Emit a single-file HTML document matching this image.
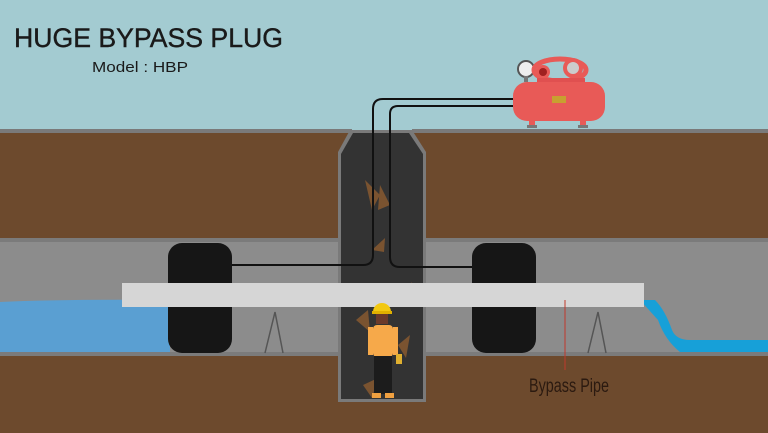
<!DOCTYPE html>
<html><head><style>body{margin:0}svg{display:block}</style></head><body>
<svg width="768" height="433" viewBox="0 0 768 433" xmlns="http://www.w3.org/2000/svg">
<rect width="768" height="433" fill="#a3cbd1"/>
<rect y="130" width="768" height="303" fill="#6d4a2d"/>
<rect y="129" width="352" height="4" fill="#7a7a7a"/>
<rect x="412" y="129" width="356" height="4" fill="#7a7a7a"/>
<rect y="238" width="768" height="118" fill="#7b7b7b"/>
<rect y="242" width="768" height="110" fill="#8c8c8c"/>
<path d="M0 302 Q60 299 170 300 L170 352 L0 352Z" fill="#5a9fd2"/>
<path d="M640 300 L655 300 Q665 310 672 330 Q676 340 690 340 L768 340 L768 352 L680 352 Q665 340 658 320 Z" fill="#17a0d8"/>
<path d="M350 130 L412 130 L426 152 L426 402 L338 402 L338 152 Z" fill="#7a7a7a"/>
<path d="M353 133 L409 133 L423 154 L423 399 L341 399 L341 154 Z" fill="#333"/>
<g fill="#7a5330">
<path d="M365 180 L380 195 L372 210Z"/><path d="M380 185 L390 205 L378 210Z"/>
<path d="M372 250 L385 238 L384 252Z"/><path d="M400 300 L412 282 L410 305Z"/>
<path d="M356 320 L368 310 L370 332Z"/><path d="M398 345 L410 335 L406 358Z"/>
<path d="M363 385 L378 378 L372 398Z"/>
</g>
<path d="M515 99 L383 99 Q373 99 373 109 L373 255 Q373 265 363 265 L230 265" fill="none" stroke="#111" stroke-width="2"/>
<path d="M515 106 L398 106 Q390 106 390 114 L390 257 Q390 267 400 267 L475 267" fill="none" stroke="#111" stroke-width="2"/>
<rect x="168" y="243" width="64" height="110" rx="14" fill="#161616"/>
<rect x="472" y="243" width="64" height="110" rx="14" fill="#161616"/>
<rect x="122" y="283" width="522" height="24" fill="#d6d6d6"/>
<path d="M265 353 L275 312 L283 353" fill="none" stroke="#555" stroke-width="1.5"/>
<path d="M588 353 L598 312 L606 353" fill="none" stroke="#555" stroke-width="1.5"/>
<line x1="565" y1="300" x2="565" y2="370" stroke="#c0392b" stroke-width="1"/>
<text x="529" y="392" font-family="Liberation Sans, sans-serif" font-size="19" fill="#2b1a10" textLength="80" lengthAdjust="spacingAndGlyphs">Bypass Pipe</text>
<path d="M373 312 A9 9 0 0 1 391 312 Z" fill="#f2c811"/>
<rect x="372" y="311" width="20" height="3" fill="#e0b000"/>
<rect x="376" y="314" width="12" height="10" fill="#6b3a2a"/>
<rect x="373" y="325" width="20" height="32" rx="4" fill="#f6a94a"/>
<rect x="368" y="327" width="5" height="28" fill="#f6a94a"/>
<rect x="393" y="327" width="5" height="28" fill="#f6a94a"/>
<rect x="374" y="356" width="18" height="38" fill="#1c1c1c"/>
<rect x="372" y="393" width="9" height="5" fill="#f0a040"/>
<rect x="385" y="393" width="9" height="5" fill="#f0a040"/>
<rect x="396" y="354" width="6" height="10" fill="#e0b030"/>
<circle cx="526" cy="69" r="8" fill="#eee" stroke="#555" stroke-width="2"/>
<rect x="524" y="76" width="4" height="6" fill="#777"/>
<ellipse cx="560" cy="70" rx="26" ry="11" fill="none" stroke="#e85a57" stroke-width="5"/>
<circle cx="543" cy="72" r="7" fill="#e85a57"/><circle cx="543" cy="72" r="4" fill="#a02020"/>
<circle cx="573" cy="68" r="10" fill="#e85a57"/><circle cx="573" cy="68" r="6" fill="#ccc"/>
<rect x="537" y="78" width="48" height="5" fill="#e05050"/>
<rect x="513" y="82" width="92" height="39" rx="14" fill="#e85a57"/>
<rect x="552" y="96" width="14" height="7" fill="#c8a030"/>
<rect x="529" y="118" width="6" height="8" fill="#e85a57"/><rect x="527" y="125" width="10" height="3" fill="#777"/>
<rect x="580" y="118" width="6" height="8" fill="#e85a57"/><rect x="578" y="125" width="10" height="3" fill="#777"/>
<text x="14" y="47" font-family="Liberation Sans, sans-serif" font-size="27" fill="#1a1a1a" stroke="#1a1a1a" stroke-width="0.4" textLength="269" lengthAdjust="spacingAndGlyphs">HUGE BYPASS PLUG</text>
<text x="92" y="72" font-family="Liberation Sans, sans-serif" font-size="15" fill="#1a1a1a" textLength="96" lengthAdjust="spacingAndGlyphs">Model : HBP</text>
</svg>
</body></html>
